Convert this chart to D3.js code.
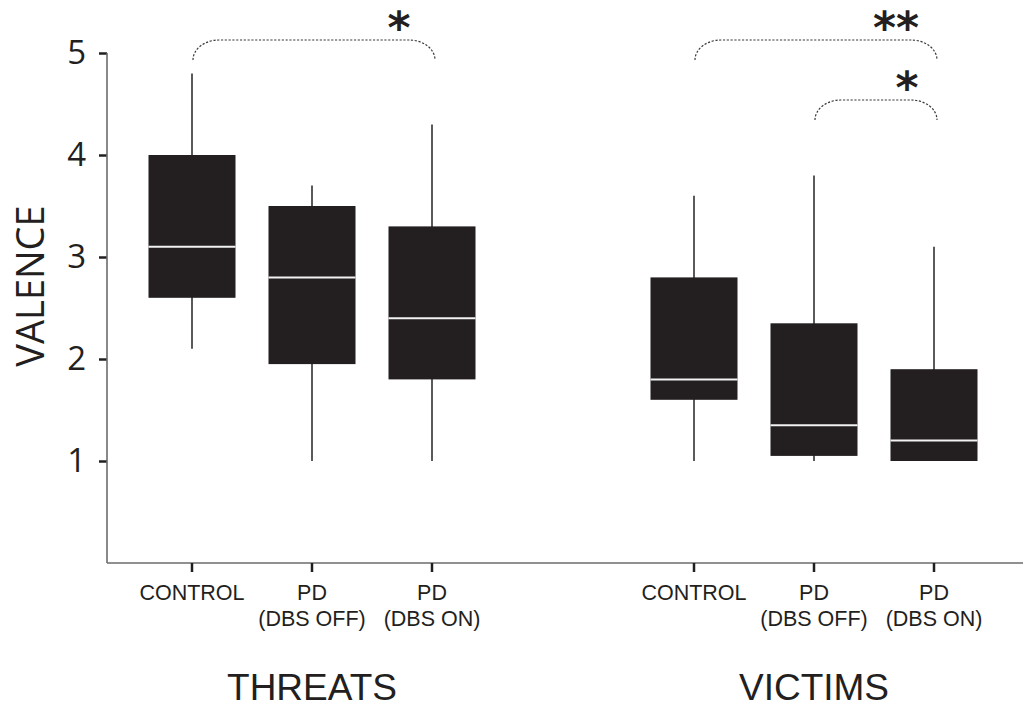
<!DOCTYPE html>
<html>
<head>
<meta charset="utf-8">
<script src="https://cdn.jsdelivr.net/npm/d3@7"></script>
<style>
  html, body { margin: 0; padding: 0; background: #fff; }
  svg { display: block; }
</style>
</head>
<body>
<svg id="chart" width="1023" height="707"></svg>
<script>
// Study groups and conditions
const groups = ["THREATS", "VICTIMS"];
const conditions = ["CONTROL", "PD (DBS OFF)", "PD (DBS ON)"];
const conditionLines = [["CONTROL"], ["PD", "(DBS OFF)"], ["PD", "(DBS ON)"]];

// Box-plot statistics, ordered CONTROL, PD (DBS OFF), PD (DBS ON)
const threatsLow    = [2.1, 1.0, 1.0];
const threatsQ1     = [2.6, 1.95, 1.8];
const threatsMedian = [3.1, 2.8, 2.4];
const threatsQ3     = [4.0, 3.5, 3.3];
const threatsHigh   = [4.8, 3.7, 4.3];

const victimsLow    = [1.0, 1.0, 1.0];
const victimsQ1     = [1.6, 1.05, 1.0];
const victimsMedian = [1.8, 1.35, 1.2];
const victimsQ3     = [2.8, 2.35, 1.9];
const victimsHigh   = [3.6, 3.8, 3.1];

const yTicks = [1, 2, 3, 4, 5];

// Significance brackets: [group, fromCondition, toCondition, label, level]
const significance = [
  ["THREATS", "CONTROL", "PD (DBS ON)", "*", 0],
  ["VICTIMS", "CONTROL", "PD (DBS ON)", "**", 0],
  ["VICTIMS", "PD (DBS OFF)", "PD (DBS ON)", "*", 1]
];

const stats = {
  THREATS: { low: threatsLow, q1: threatsQ1, median: threatsMedian, q3: threatsQ3, high: threatsHigh },
  VICTIMS: { low: victimsLow, q1: victimsQ1, median: victimsMedian, q3: victimsQ3, high: victimsHigh }
};

const boxes = [];
groups.forEach(g => conditions.forEach((c, i) => boxes.push({
  group: g, cond: c,
  low: stats[g].low[i], q1: stats[g].q1[i], median: stats[g].median[i],
  q3: stats[g].q3[i], high: stats[g].high[i]
})));

const svg = d3.select("#chart");

const axisLeft = 107, axisBottom = 563;
const y = d3.scaleLinear().domain([0, 5]).range([axisBottom, 53]);
const gx = d3.scalePoint().domain(groups).range([312, 814]);
const cx = d3.scalePoint().domain(conditions).range([-120, 120]);
const xPos = (g, c) => gx(g) + cx(c);

const boxWidth = 87;
const axisColor = "#6d6a6b";

// Whiskers
svg.append("g").selectAll("line").data(boxes).join("line")
  .attr("x1", d => xPos(d.group, d.cond)).attr("x2", d => xPos(d.group, d.cond))
  .attr("y1", d => y(d.low)).attr("y2", d => y(d.high))
  .attr("stroke", "#5a5a5c").attr("stroke-width", 2);

// Boxes
svg.append("g").selectAll("rect").data(boxes).join("rect")
  .attr("x", d => xPos(d.group, d.cond) - boxWidth / 2)
  .attr("width", boxWidth)
  .attr("y", d => y(d.q3))
  .attr("height", d => y(d.q1) - y(d.q3))
  .attr("fill", "#231f20");

// Medians
svg.append("g").selectAll("line").data(boxes).join("line")
  .attr("x1", d => xPos(d.group, d.cond) - boxWidth / 2)
  .attr("x2", d => xPos(d.group, d.cond) + boxWidth / 2)
  .attr("y1", d => y(d.median)).attr("y2", d => y(d.median))
  .attr("stroke", "#f2f2f2").attr("stroke-width", 2);

// Y axis
const yAxis = svg.append("g")
  .attr("transform", `translate(${axisLeft},0)`)
  .call(d3.axisLeft(y).tickValues(yTicks).tickFormat(d3.format("d"))
    .tickSize(8).tickSizeOuter(0).tickPadding(13));
yAxis.select(".domain").remove();
yAxis.append("line")
  .attr("x1", 0).attr("x2", 0).attr("y1", y(5)).attr("y2", axisBottom)
  .attr("stroke", axisColor).attr("stroke-width", 1.6);
yAxis.selectAll(".tick line").attr("stroke", "#231f20").attr("stroke-width", 2.5);
yAxis.selectAll(".tick text")
  .attr("font-family", "'Open Sans', sans-serif")
  .attr("font-size", 33).attr("fill", "#231f20");

// X axis baseline
svg.append("line")
  .attr("x1", axisLeft).attr("x2", 1023).attr("y1", axisBottom).attr("y2", axisBottom)
  .attr("stroke", axisColor).attr("stroke-width", 1.6);

// Category ticks and labels
const cats = [];
groups.forEach(g => conditions.forEach((c, i) => cats.push({ group: g, cond: c, lines: conditionLines[i] })));
const catG = svg.append("g").selectAll("g").data(cats).join("g")
  .attr("transform", d => `translate(${xPos(d.group, d.cond)},${axisBottom})`);
catG.append("line").attr("y1", 0).attr("y2", 9)
  .attr("stroke", "#231f20").attr("stroke-width", 2.5);
catG.append("text")
  .attr("text-anchor", "middle")
  .attr("font-family", "'Liberation Sans', Arial, sans-serif")
  .attr("font-size", 21.5).attr("fill", "#231f20")
  .selectAll("tspan").data(d => d.lines).join("tspan")
  .attr("x", 0).attr("y", (d, i) => 37 + i * 26).text(d => d);

// Group titles
svg.append("g").selectAll("text").data(groups).join("text")
  .attr("x", d => gx(d)).attr("y", 700)
  .attr("text-anchor", "middle")
  .attr("font-family", "'Liberation Sans', Arial, sans-serif")
  .attr("font-size", 37).attr("fill", "#231f20")
  .text(d => d);

// Y axis title
svg.append("text")
  .attr("transform", `translate(44,286) rotate(-90)`)
  .attr("text-anchor", "middle")
  .attr("font-family", "'Open Sans', sans-serif")
  .attr("font-size", 38).attr("fill", "#231f20")
  .text("VALENCE");

// Significance brackets
const bracketTop = [40, 100], bracketDrop = 20, rx = 26;
const starOffset = [33, 27];
const brG = svg.append("g").selectAll("g").data(significance).join("g");
brG.append("path")
  .attr("d", d => {
    const x1 = xPos(d[0], d[1]) + 1, x2 = xPos(d[0], d[2]) + 3;
    const t = bracketTop[d[4]], b = t + bracketDrop;
    return `M${x1},${b} A${rx},${bracketDrop} 0 0 1 ${x1 + rx},${t} L${x2 - rx},${t} A${rx},${bracketDrop} 0 0 1 ${x2},${b}`;
  })
  .attr("fill", "none").attr("stroke", "#3a3a3a")
  .attr("stroke-width", 1.2).attr("stroke-dasharray", "2.2,1.6");
brG.append("text")
  .attr("x", d => xPos(d[0], d[2]) - (d[3].length > 1 ? 38 : starOffset[d[4]]))
  .attr("y", d => bracketTop[d[4]] + 3)
  .attr("text-anchor", "middle")
  .attr("font-family", "'DejaVu Sans', sans-serif")
  .attr("font-weight", "bold")
  .attr("font-size", 44).attr("fill", "#231f20")
  .text(d => d[3]);
</script>
</body>
</html>
